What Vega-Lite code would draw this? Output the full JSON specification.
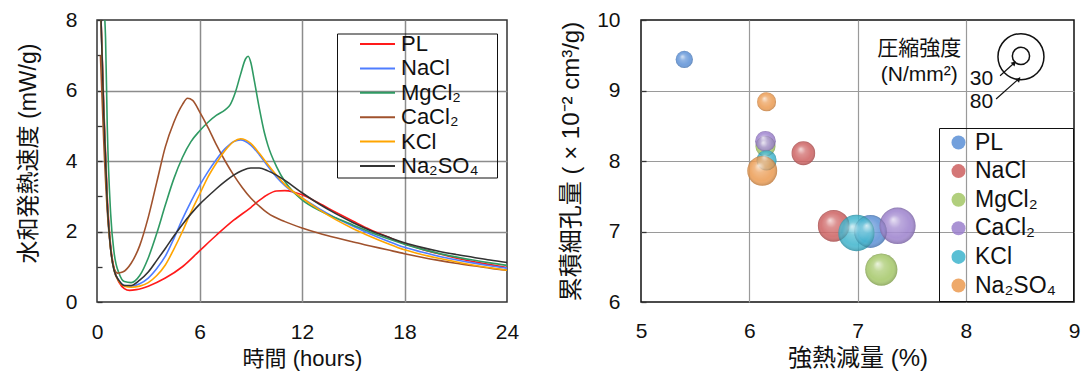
{
  "$schema": "https://vega.github.io/schema/vega-lite/v6.json",
  "padding": {"left": 16, "top": 8, "right": 0, "bottom": 0},
  "spacing": 38,
  "config": {
    "font": "'Liberation Sans', 'Noto Sans CJK JP', sans-serif",
    "view": {"stroke": "#333", "strokeWidth": 1.5},
    "axis": {"labelFontSize": 21, "titleFontSize": 22, "titleFontWeight": "normal", "labelColor": "#111", "titleColor": "#111", "domain": false, "tickColor": "#333", "tickWidth": 1.3, "labelFlush": false},
    "legend": {"labelColor": "#111", "strokeColor": "#111"}
  },
  "resolve": {"scale": {"color": "independent", "size": "independent"}, "legend": {"color": "independent"}},
  "hconcat": [
    {
      "width": 410,
      "height": 282,
      "data": {"values": [
        {"s":"PL","t":0.2,"v":8.6},{"s":"PL","t":0.4,"v":5.5},{"s":"PL","t":0.6,"v":3.0},{"s":"PL","t":0.8,"v":1.6},{"s":"PL","t":1.0,"v":0.95},{"s":"PL","t":1.3,"v":0.55},{"s":"PL","t":1.6,"v":0.38},{"s":"PL","t":1.9,"v":0.33},{"s":"PL","t":2.3,"v":0.35},{"s":"PL","t":3,"v":0.45},{"s":"PL","t":4,"v":0.68},{"s":"PL","t":5,"v":1.0},{"s":"PL","t":6,"v":1.45},{"s":"PL","t":7,"v":1.9},{"s":"PL","t":8,"v":2.32},{"s":"PL","t":9,"v":2.68},{"s":"PL","t":9.5,"v":2.88},{"s":"PL","t":10,"v":3.05},{"s":"PL","t":10.5,"v":3.15},{"s":"PL","t":11,"v":3.16},{"s":"PL","t":11.5,"v":3.12},{"s":"PL","t":12,"v":3.04},{"s":"PL","t":13,"v":2.8},{"s":"PL","t":14,"v":2.54},{"s":"PL","t":15,"v":2.29},{"s":"PL","t":16,"v":2.05},{"s":"PL","t":17,"v":1.85},{"s":"PL","t":18,"v":1.65},{"s":"PL","t":19,"v":1.5},{"s":"PL","t":20,"v":1.37},{"s":"PL","t":21,"v":1.25},{"s":"PL","t":22,"v":1.15},{"s":"PL","t":23,"v":1.06},{"s":"PL","t":24,"v":0.98},
        {"s":"NaCl","t":0.2,"v":8.6},{"s":"NaCl","t":0.4,"v":5.3},{"s":"NaCl","t":0.6,"v":2.8},{"s":"NaCl","t":0.8,"v":1.5},{"s":"NaCl","t":1.0,"v":0.9},{"s":"NaCl","t":1.3,"v":0.6},{"s":"NaCl","t":1.6,"v":0.47},{"s":"NaCl","t":2.0,"v":0.45},{"s":"NaCl","t":2.5,"v":0.52},{"s":"NaCl","t":3,"v":0.68},{"s":"NaCl","t":3.5,"v":0.95},{"s":"NaCl","t":4,"v":1.3},{"s":"NaCl","t":4.5,"v":1.8},{"s":"NaCl","t":5,"v":2.35},{"s":"NaCl","t":5.5,"v":2.85},{"s":"NaCl","t":6,"v":3.3},{"s":"NaCl","t":6.5,"v":3.7},{"s":"NaCl","t":7,"v":4.05},{"s":"NaCl","t":7.5,"v":4.35},{"s":"NaCl","t":8,"v":4.55},{"s":"NaCl","t":8.4,"v":4.6},{"s":"NaCl","t":9,"v":4.45},{"s":"NaCl","t":9.5,"v":4.18},{"s":"NaCl","t":10,"v":3.85},{"s":"NaCl","t":10.5,"v":3.55},{"s":"NaCl","t":11,"v":3.3},{"s":"NaCl","t":12,"v":2.95},{"s":"NaCl","t":13,"v":2.65},{"s":"NaCl","t":14,"v":2.38},{"s":"NaCl","t":15,"v":2.15},{"s":"NaCl","t":16,"v":1.93},{"s":"NaCl","t":17,"v":1.73},{"s":"NaCl","t":18,"v":1.55},{"s":"NaCl","t":19,"v":1.42},{"s":"NaCl","t":20,"v":1.3},{"s":"NaCl","t":21,"v":1.2},{"s":"NaCl","t":22,"v":1.11},{"s":"NaCl","t":23,"v":1.03},{"s":"NaCl","t":24,"v":0.96},
        {"s":"MgCl₂","t":0.3,"v":9.0},{"s":"MgCl₂","t":0.5,"v":7.5},{"s":"MgCl₂","t":0.6,"v":5.0},{"s":"MgCl₂","t":0.8,"v":2.5},{"s":"MgCl₂","t":1.0,"v":1.4},{"s":"MgCl₂","t":1.3,"v":0.8},{"s":"MgCl₂","t":1.6,"v":0.58},{"s":"MgCl₂","t":2.0,"v":0.55},{"s":"MgCl₂","t":2.5,"v":0.75},{"s":"MgCl₂","t":3,"v":1.25},{"s":"MgCl₂","t":3.5,"v":1.95},{"s":"MgCl₂","t":4,"v":2.75},{"s":"MgCl₂","t":4.5,"v":3.5},{"s":"MgCl₂","t":5,"v":4.1},{"s":"MgCl₂","t":5.5,"v":4.55},{"s":"MgCl₂","t":6,"v":4.85},{"s":"MgCl₂","t":6.5,"v":5.1},{"s":"MgCl₂","t":7,"v":5.3},{"s":"MgCl₂","t":7.5,"v":5.45},{"s":"MgCl₂","t":7.8,"v":5.6},{"s":"MgCl₂","t":8.1,"v":5.95},{"s":"MgCl₂","t":8.4,"v":6.45},{"s":"MgCl₂","t":8.7,"v":6.9},{"s":"MgCl₂","t":8.85,"v":6.97},{"s":"MgCl₂","t":9.0,"v":6.8},{"s":"MgCl₂","t":9.2,"v":6.3},{"s":"MgCl₂","t":9.5,"v":5.5},{"s":"MgCl₂","t":9.8,"v":4.8},{"s":"MgCl₂","t":10,"v":4.45},{"s":"MgCl₂","t":10.5,"v":3.85},{"s":"MgCl₂","t":11,"v":3.42},{"s":"MgCl₂","t":11.5,"v":3.12},{"s":"MgCl₂","t":12,"v":2.9},{"s":"MgCl₂","t":13,"v":2.6},{"s":"MgCl₂","t":14,"v":2.38},{"s":"MgCl₂","t":15,"v":2.18},{"s":"MgCl₂","t":16,"v":1.98},{"s":"MgCl₂","t":17,"v":1.8},{"s":"MgCl₂","t":18,"v":1.64},{"s":"MgCl₂","t":19,"v":1.5},{"s":"MgCl₂","t":20,"v":1.38},{"s":"MgCl₂","t":21,"v":1.28},{"s":"MgCl₂","t":22,"v":1.19},{"s":"MgCl₂","t":23,"v":1.11},{"s":"MgCl₂","t":24,"v":1.04},
        {"s":"CaCl₂","t":0.2,"v":7.0},{"s":"CaCl₂","t":0.4,"v":4.5},{"s":"CaCl₂","t":0.6,"v":2.6},{"s":"CaCl₂","t":0.8,"v":1.5},{"s":"CaCl₂","t":1.0,"v":0.95},{"s":"CaCl₂","t":1.2,"v":0.82},{"s":"CaCl₂","t":1.5,"v":0.85},{"s":"CaCl₂","t":2.0,"v":1.1},{"s":"CaCl₂","t":2.5,"v":1.6},{"s":"CaCl₂","t":3,"v":2.4},{"s":"CaCl₂","t":3.5,"v":3.4},{"s":"CaCl₂","t":4,"v":4.4},{"s":"CaCl₂","t":4.5,"v":5.1},{"s":"CaCl₂","t":5,"v":5.6},{"s":"CaCl₂","t":5.3,"v":5.78},{"s":"CaCl₂","t":5.6,"v":5.72},{"s":"CaCl₂","t":6,"v":5.4},{"s":"CaCl₂","t":6.5,"v":4.95},{"s":"CaCl₂","t":7,"v":4.45},{"s":"CaCl₂","t":7.5,"v":4.0},{"s":"CaCl₂","t":8,"v":3.6},{"s":"CaCl₂","t":8.5,"v":3.25},{"s":"CaCl₂","t":9,"v":2.95},{"s":"CaCl₂","t":9.5,"v":2.72},{"s":"CaCl₂","t":10,"v":2.52},{"s":"CaCl₂","t":11,"v":2.28},{"s":"CaCl₂","t":12,"v":2.1},{"s":"CaCl₂","t":13,"v":1.95},{"s":"CaCl₂","t":14,"v":1.82},{"s":"CaCl₂","t":15,"v":1.7},{"s":"CaCl₂","t":16,"v":1.59},{"s":"CaCl₂","t":17,"v":1.48},{"s":"CaCl₂","t":18,"v":1.37},{"s":"CaCl₂","t":19,"v":1.27},{"s":"CaCl₂","t":20,"v":1.18},{"s":"CaCl₂","t":21,"v":1.1},{"s":"CaCl₂","t":22,"v":1.03},{"s":"CaCl₂","t":23,"v":0.96},{"s":"CaCl₂","t":24,"v":0.9},
        {"s":"KCl","t":0.2,"v":8.6},{"s":"KCl","t":0.4,"v":5.3},{"s":"KCl","t":0.6,"v":2.8},{"s":"KCl","t":0.8,"v":1.5},{"s":"KCl","t":1.0,"v":0.9},{"s":"KCl","t":1.3,"v":0.58},{"s":"KCl","t":1.6,"v":0.45},{"s":"KCl","t":2.0,"v":0.42},{"s":"KCl","t":2.5,"v":0.45},{"s":"KCl","t":3,"v":0.55},{"s":"KCl","t":3.5,"v":0.75},{"s":"KCl","t":4,"v":1.05},{"s":"KCl","t":4.5,"v":1.5},{"s":"KCl","t":5,"v":2.0},{"s":"KCl","t":5.5,"v":2.55},{"s":"KCl","t":6,"v":3.05},{"s":"KCl","t":6.5,"v":3.55},{"s":"KCl","t":7,"v":3.95},{"s":"KCl","t":7.5,"v":4.3},{"s":"KCl","t":8,"v":4.55},{"s":"KCl","t":8.4,"v":4.63},{"s":"KCl","t":9,"v":4.5},{"s":"KCl","t":9.5,"v":4.22},{"s":"KCl","t":10,"v":3.9},{"s":"KCl","t":10.5,"v":3.6},{"s":"KCl","t":11,"v":3.33},{"s":"KCl","t":12,"v":2.95},{"s":"KCl","t":13,"v":2.62},{"s":"KCl","t":14,"v":2.33},{"s":"KCl","t":15,"v":2.08},{"s":"KCl","t":16,"v":1.86},{"s":"KCl","t":17,"v":1.66},{"s":"KCl","t":18,"v":1.48},{"s":"KCl","t":19,"v":1.35},{"s":"KCl","t":20,"v":1.24},{"s":"KCl","t":21,"v":1.14},{"s":"KCl","t":22,"v":1.05},{"s":"KCl","t":23,"v":0.97},{"s":"KCl","t":24,"v":0.9},
        {"s":"Na₂SO₄","t":0.2,"v":8.6},{"s":"Na₂SO₄","t":0.4,"v":5.3},{"s":"Na₂SO₄","t":0.6,"v":2.8},{"s":"Na₂SO₄","t":0.8,"v":1.5},{"s":"Na₂SO₄","t":1.0,"v":0.9},{"s":"Na₂SO₄","t":1.3,"v":0.6},{"s":"Na₂SO₄","t":1.6,"v":0.47},{"s":"Na₂SO₄","t":2.0,"v":0.47},{"s":"Na₂SO₄","t":2.5,"v":0.62},{"s":"Na₂SO₄","t":3,"v":0.85},{"s":"Na₂SO₄","t":3.5,"v":1.18},{"s":"Na₂SO₄","t":4,"v":1.52},{"s":"Na₂SO₄","t":4.5,"v":1.87},{"s":"Na₂SO₄","t":5,"v":2.2},{"s":"Na₂SO₄","t":5.5,"v":2.5},{"s":"Na₂SO₄","t":6,"v":2.77},{"s":"Na₂SO₄","t":6.5,"v":3.0},{"s":"Na₂SO₄","t":7,"v":3.22},{"s":"Na₂SO₄","t":7.5,"v":3.42},{"s":"Na₂SO₄","t":8,"v":3.6},{"s":"Na₂SO₄","t":8.5,"v":3.73},{"s":"Na₂SO₄","t":9,"v":3.8},{"s":"Na₂SO₄","t":9.5,"v":3.8},{"s":"Na₂SO₄","t":10,"v":3.72},{"s":"Na₂SO₄","t":10.5,"v":3.6},{"s":"Na₂SO₄","t":11,"v":3.45},{"s":"Na₂SO₄","t":12,"v":3.1},{"s":"Na₂SO₄","t":13,"v":2.78},{"s":"Na₂SO₄","t":14,"v":2.5},{"s":"Na₂SO₄","t":15,"v":2.25},{"s":"Na₂SO₄","t":16,"v":2.03},{"s":"Na₂SO₄","t":17,"v":1.85},{"s":"Na₂SO₄","t":18,"v":1.68},{"s":"Na₂SO₄","t":19,"v":1.55},{"s":"Na₂SO₄","t":20,"v":1.44},{"s":"Na₂SO₄","t":21,"v":1.35},{"s":"Na₂SO₄","t":22,"v":1.27},{"s":"Na₂SO₄","t":23,"v":1.19},{"s":"Na₂SO₄","t":24,"v":1.12}
      ]},
      "mark": {"type": "line", "clip": true, "strokeWidth": 1.6, "interpolate": "monotone"},
      "encoding": {
        "x": {"field": "t", "type": "quantitative", "scale": {"domain": [0, 24], "nice": false},
              "axis": {"values": [0, 6, 12, 18, 24], "title": "時間 (hours)", "ticks": false, "labelPadding": 19, "titlePadding": 6, "gridColor": "#8c8c8c", "gridWidth": 1.5,
                       "gridOpacity": {"condition": {"test": "datum.value == 0 || datum.value == 24", "value": 0}, "value": 1}}},
        "y": {"field": "v", "type": "quantitative", "scale": {"domain": [0, 8], "nice": false},
              "axis": {"values": [0, 1, 2, 3, 4, 5, 6, 7, 8], "labelExpr": "datum.value % 2 == 0 ? datum.label : ''", "title": "水和発熱速度 (mW/g)", "titleFontSize": 23, "titleY": 133, "tickSize": -5, "labelPadding": 25, "titlePadding": 25, "gridColor": "#8c8c8c", "gridWidth": 1.5,
                       "gridOpacity": {"condition": {"test": "datum.value % 2 == 1 || datum.value == 0 || datum.value == 8", "value": 0}, "value": 1}}},
        "color": {"field": "s", "type": "nominal",
                  "scale": {"domain": ["PL", "NaCl", "MgCl₂", "CaCl₂", "KCl", "Na₂SO₄"], "range": ["#ff1a1a", "#4f7dff", "#2f9a63", "#a0522d", "#ffa500", "#333333"]},
                  "legend": {"orient": "none", "legendX": 240, "legendY": 13.5, "title": "\u00a0", "titleOrient": "right", "titlePadding": 19, "titleFontSize": 8, "symbolType": "stroke", "symbolSize": 1225, "symbolStrokeWidth": 2, "symbolOffset": 22, "labelFontSize": 22, "labelOffset": 5, "clipHeight": 21, "rowPadding": 1.4, "padding": 0}}
      }
    },
    {
      "width": 433,
      "height": 282,
      "view": {"stroke": "#111", "strokeWidth": 1.5},
      "layer": [
        {
          "data": {"values": [
            {"s":"PL","x":5.40,"y":9.44,"cs":30},
            {"s":"PL","x":7.12,"y":7.00,"cs":57},
            {"s":"NaCl","x":6.50,"y":8.11,"cs":41},
            {"s":"NaCl","x":6.78,"y":7.08,"cs":55},
            {"s":"MgCl₂","x":6.15,"y":8.21,"cs":35},
            {"s":"MgCl₂","x":7.22,"y":6.46,"cs":56},
            {"s":"CaCl₂","x":6.15,"y":8.28,"cs":36},
            {"s":"CaCl₂","x":7.37,"y":7.08,"cs":63},
            {"s":"KCl","x":6.16,"y":8.01,"cs":35},
            {"s":"KCl","x":6.99,"y":6.98,"cs":63},
            {"s":"Na₂SO₄","x":6.16,"y":8.84,"cs":33},
            {"s":"Na₂SO₄","x":6.12,"y":7.86,"cs":52}
          ]},
          "layer": [
            {
              "mark": {"type": "circle", "opacity": 0.85},
              "encoding": {
                "x": {"field": "x", "type": "quantitative", "scale": {"domain": [5, 9], "nice": false},
                      "axis": {"values": [5, 6, 7, 8, 9], "format": "d", "title": "強熱減量 (%)", "titleFontSize": 24, "ticks": false, "labelPadding": 18, "titlePadding": 5, "gridColor": "#9a9a9a", "gridWidth": 1.2,
                               "gridOpacity": {"condition": {"test": "datum.value == 5 || datum.value == 9", "value": 0}, "value": 1}}},
                "y": {"field": "y", "type": "quantitative", "scale": {"domain": [6, 10], "nice": false},
                      "axis": {"values": [6, 6.5, 7, 7.5, 8, 8.5, 9, 9.5, 10], "labelExpr": "datum.value % 1 == 0 ? format(datum.value, 'd') : ''", "title": "累積細孔量 ( × 10⁻² cm³/g)", "titleFontSize": 24, "tickSize": -5, "labelPadding": 26, "titlePadding": 13, "gridColor": "#9a9a9a", "gridWidth": 1.2,
                               "gridOpacity": {"condition": {"test": "datum.value % 1 != 0 || datum.value == 6 || datum.value == 10", "value": 0}, "value": 1}}},
                "size": {"field": "cs", "type": "quantitative", "scale": {"type": "pow", "exponent": 2, "domain": [0, 80], "range": [0, 2116]}, "legend": null},
                "color": {"field": "s", "type": "nominal",
                          "scale": {"domain": ["PL", "NaCl", "MgCl₂", "CaCl₂", "KCl", "Na₂SO₄"], "range": ["#5a8fd6", "#cc5f5f", "#a3c766", "#9b80cc", "#3db4cc", "#eb9a50"]},
                          "legend": {"orient": "none", "legendX": 298, "legendY": 108, "title": "\u00a0", "titleOrient": "right", "titlePadding": 14, "titleFontSize": 8, "symbolType": "circle", "symbolSize": 196, "symbolOffset": 5, "labelFontSize": 23, "labelOffset": 5, "clipHeight": 23, "rowPadding": 4.6, "padding": 3}}
              }
            },
            {
              "mark": {"type": "circle", "opacity": 1, "fill": {"gradient": "radial", "x1": 0.38, "y1": 0.32, "r1": 0, "x2": 0.5, "y2": 0.5, "r2": 0.5,
                        "stops": [{"offset": 0, "color": "rgba(255,255,255,0.75)"}, {"offset": 0.35, "color": "rgba(255,255,255,0.2)"}, {"offset": 0.75, "color": "rgba(255,255,255,0)"}, {"offset": 1, "color": "rgba(0,0,0,0.18)"}]}},
              "encoding": {
                "x": {"field": "x", "type": "quantitative"},
                "y": {"field": "y", "type": "quantitative"},
                "size": {"field": "cs", "type": "quantitative"}
              }
            }
          ]
        },
        {
          "data": {"values": [{"x": 8.51, "y": 9.49, "cs": 30}, {"x": 8.51, "y": 9.48, "cs": 80}]},
          "mark": {"type": "point", "shape": "circle", "filled": false, "stroke": "#111", "strokeWidth": 1.5, "opacity": 1},
          "encoding": {
            "x": {"field": "x", "type": "quantitative"},
            "y": {"field": "y", "type": "quantitative"},
            "size": {"field": "cs", "type": "quantitative"}
          }
        },
        {
          "data": {"values": [{"x": 8.317, "y": 9.21, "x2": 8.455, "y2": 9.40}, {"x": 8.28, "y": 8.88, "x2": 8.5, "y2": 9.18}]},
          "mark": {"type": "rule", "stroke": "#111", "strokeWidth": 1.2},
          "encoding": {
            "x": {"field": "x", "type": "quantitative"},
            "y": {"field": "y", "type": "quantitative"},
            "x2": {"field": "x2"},
            "y2": {"field": "y2"}
          }
        },
        {
          "data": {"values": [{"x": 8.448, "y": 9.39}, {"x": 8.49, "y": 9.16}]},
          "mark": {"type": "point", "shape": "triangle-up", "filled": true, "color": "#111", "size": 30, "angle": 45, "opacity": 1},
          "encoding": {
            "x": {"field": "x", "type": "quantitative"},
            "y": {"field": "y", "type": "quantitative"}
          }
        },
        {
          "data": {"values": [
            {"x": 7.57, "y": 9.59, "label": "圧縮強度"},
            {"x": 7.57, "y": 9.22, "label": "(N/mm²)"},
            {"x": 8.145, "y": 9.16, "label": "30"},
            {"x": 8.145, "y": 8.84, "label": "80"}
          ]},
          "mark": {"type": "text", "fontSize": 21, "align": "center", "baseline": "middle", "color": "#111"},
          "encoding": {
            "x": {"field": "x", "type": "quantitative"},
            "y": {"field": "y", "type": "quantitative"},
            "text": {"field": "label"}
          }
        }
      ]
    }
  ]
}
